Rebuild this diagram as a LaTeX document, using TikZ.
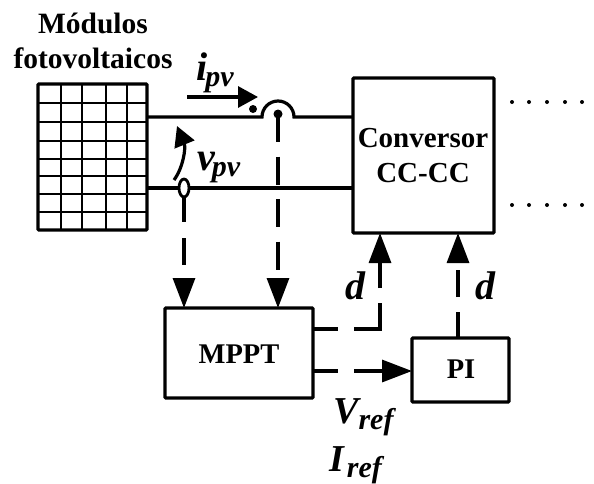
\documentclass[tikz,border=0pt]{standalone}
\usepackage{fontspec}
\setmainfont{Liberation Serif}
\usetikzlibrary{arrows.meta,calc,shapes.geometric}
\tikzset{
  blockbox/.style={draw,line width=3.2pt,inner sep=0pt,outer sep=0pt,anchor=north west,rounded corners=0.8pt},
  gridthin/.style={line width=2.2pt},
  wire/.style={line width=3.2pt},
  headtip/.style={-{Triangle[length=30pt,width=22pt]}},
  smalltip/.style={-{Triangle[length=20pt,width=21pt]}},
  lab/.style={inner sep=0pt,align=center},
  dotmark/.style={circle,fill=black,inner sep=0pt,outer sep=0pt},
  symb/.style={inner sep=0pt,font=\bfseries\itshape\fontsize{40}{42}\selectfont},
  symbig/.style={inner sep=0pt,font=\bfseries\itshape\fontsize{38}{40}\selectfont},
}
\newcommand{\subsz}[1]{\raisebox{-6pt}{\fontsize{30}{31}\selectfont #1}}
\begin{document}
\begin{tikzpicture}[x=1pt,y=-1pt]
\useasboundingbox (0,0) rectangle (594,483);
\fill[white] (0,0) rectangle (594,483);
% PV module
\foreach \x in {61,82,106,127} \draw[gridthin] (\x,84) -- (\x,230);
\foreach \y in {103,122,141,159,176,194,212} \draw[gridthin] (38,\y) -- (147,\y);
\node[blockbox,minimum width=109pt,minimum height=146pt] (pv) at (38,84) {};
\node[lab,font=\bfseries\fontsize{29.5}{35}\selectfont,anchor=base] (title) at (93,33) {Módulos};
\node[lab,font=\bfseries\fontsize{29.5}{35}\selectfont,anchor=base] (title2) at (93,68) {fotovoltaicos};
% Boxes
\node[blockbox,minimum width=141pt,minimum height=155pt] (conv) at (353,78) {};
\node[lab,font=\bfseries\fontsize{29}{35}\selectfont,anchor=base] (convt) at (423,147) {Conversor};
\node[lab,font=\bfseries\fontsize{29}{35}\selectfont,anchor=base] (convt2) at (423,182) {CC-CC};
\node[blockbox,minimum width=148pt,minimum height=90pt] (mppt) at (165,308) {};
\node[lab,font=\bfseries\fontsize{28.5}{30}\selectfont,anchor=base] (mpptt) at (239,363) {MPPT};
\node[blockbox,minimum width=97pt,minimum height=64pt] (pi) at (412,338) {};
\node[lab,font=\bfseries\fontsize{28.5}{30}\selectfont,anchor=base] (pit) at (461,378) {PI};
% coordinates
\coordinate (w1) at (147,117);
\coordinate (w2) at (147,188);
\coordinate (c1) at (353,117);
\coordinate (c2) at (353,188);
\coordinate (hopL) at (262,117);
% wires
\draw[wire] (w1) -- (hopL) arc[start angle=180,end angle=0,radius=16pt] -- (c1);
\draw[wire] (w2) -- (c2);
% sensors
\node[dotmark,minimum size=9pt] (s1) at (278,114) {};
\node[dotmark,minimum size=8pt] (pol) at (253,109) {};
\node[draw,ellipse,line width=2.8pt,fill=white,minimum width=10pt,minimum height=18pt,inner sep=0pt,outer sep=0pt] (s2) at (184,188) {};
% dashed sensing lines
\draw[wire,dash pattern=on 25pt off 16pt on 27pt off 60pt,headtip] (s2.south) -- (s2.south |- mppt.north);
\draw[wire,dash pattern=on 28pt off 14.5pt,headtip] (s1.center) -- (s1.center |- mppt.north);
% outputs
\coordinate (m1) at (313,329);
\coordinate (m2) at (313,371);
\coordinate (d1) at (380,233);
\coordinate (d1c) at (380,329);
\coordinate (d2) at (458,233);
\coordinate (p1) at (458,338);
\draw[wire,dash pattern=on 25pt off 16pt on 52pt off 15pt on 60pt,headtip] (m1) -- (d1c) -- (d1);
\draw[wire,dash pattern=on 26pt off 15pt on 27pt off 60pt,headtip] (p1) -- (d2);
\draw[wire,dash pattern=on 25pt off 16pt on 40pt,headtip] (m2) -- (pi.west |- m2);
% measurement arrows
\coordinate (ia) at (187,97);
\coordinate (ib) at (258,97);
\draw[wire,smalltip] (ia) -- (ib);
\coordinate (va) at (174,180);
\coordinate (vb) at (177,126);
\draw[wire,smalltip] (va) .. controls (183,168) and (186,148) .. (vb);
% labels
\node[symb,anchor=base west] (ipv) at (196,80) {i\kern-2pt\subsz{pv}};
\node[symb,anchor=base west] (vpv) at (197,170) {v\kern-3pt\subsz{pv}};
\node[symb,anchor=base west] (dl) at (345,299) {d};
\node[symb,anchor=base west] (dr) at (475,299) {d};
\node[symbig,anchor=base west] (vref) at (333,423) {V\subsz{ref}};
\node[symbig,anchor=base west] (iref) at (329,471) {I\kern3pt\subsz{ref}};
% dots
\foreach \x in {512,529,547,565,582} {
  \fill (\x,102) circle[radius=2pt];
  \fill (\x,205) circle[radius=2pt];
}
\end{tikzpicture}
\end{document}
